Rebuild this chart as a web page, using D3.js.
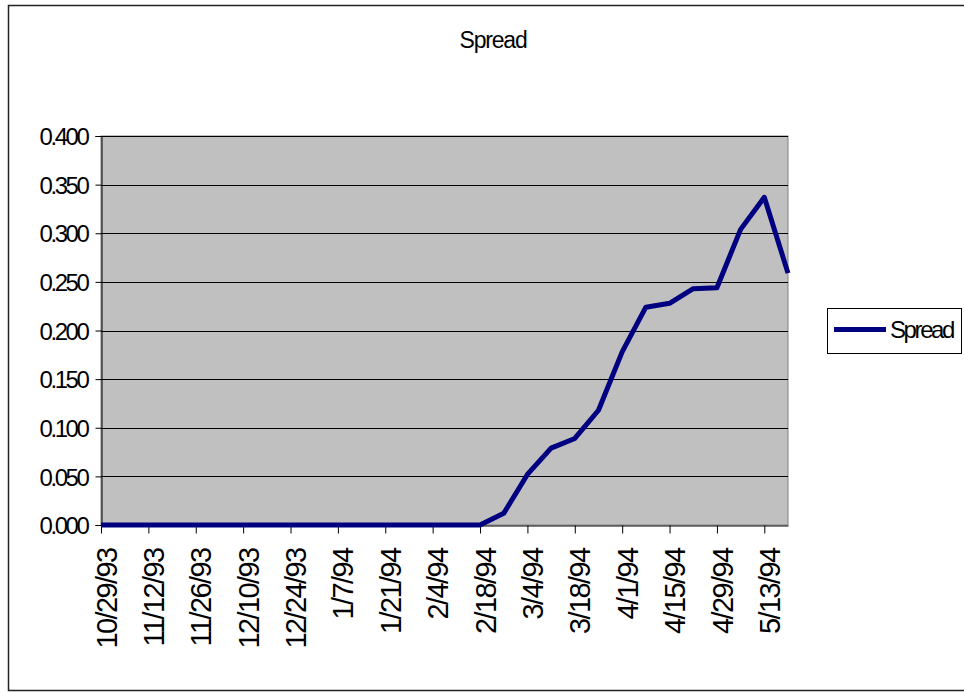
<!DOCTYPE html>
<html>
<head>
<meta charset="utf-8">
<script src="https://cdn.jsdelivr.net/npm/d3@7"></script>
<style>
  html, body { margin: 0; padding: 0; background: #fff; }
  svg { display: block; font-family: "Liberation Sans", Arial, sans-serif; }
</style>
</head>
<body>
<svg id="chart" width="964" height="692"></svg>
<script>
// Weekly observation dates
const dates = [
  "10/29/93", "11/5/93", "11/12/93", "11/19/93", "11/26/93", "12/3/93",
  "12/10/93", "12/17/93", "12/24/93", "12/31/93", "1/7/94", "1/14/94",
  "1/21/94", "1/28/94", "2/4/94", "2/11/94", "2/18/94", "2/25/94",
  "3/4/94", "3/11/94", "3/18/94", "3/25/94", "4/1/94", "4/8/94",
  "4/15/94", "4/22/94", "4/29/94", "5/6/94", "5/13/94", "5/20/94"
];

// Spread series, one value per week
const spread = [
  0, 0, 0, 0, 0, 0, 0, 0, 0, 0, 0, 0, 0, 0, 0, 0, 0,
  0.012, 0.052, 0.079, 0.089, 0.118, 0.178, 0.224, 0.228,
  0.243, 0.244, 0.304, 0.337, 0.259
];

// Axis tick values
const yTicks = [0, 0.05, 0.1, 0.15, 0.2, 0.25, 0.3, 0.35, 0.4];
const xTickLabels = dates.filter((d, i) => i % 2 === 0);

const seriesName = "Spread";
const titleText = "Spread";

const svg = d3.select("#chart");

// Outer chart-area frame
svg.append("path")
  .attr("d", "M970,5.5 H8.5 V690.5 H970")
  .attr("fill", "none")
  .attr("stroke", "#222")
  .attr("stroke-width", 1.5);

const plot = { left: 101, right: 788, top: 136, bottom: 525 };

const x = d3.scalePoint().domain(dates).range([plot.left, plot.right]);
const y = d3.scaleLinear().domain([0, 0.4]).range([plot.bottom, plot.top]);

// Plot background
svg.append("rect")
  .attr("x", plot.left).attr("y", plot.top)
  .attr("width", plot.right - plot.left).attr("height", plot.bottom - plot.top)
  .attr("fill", "#c0c0c0")
  .attr("stroke", "#808080")
  .attr("stroke-width", 1);

// Horizontal gridlines
svg.append("g")
  .selectAll("line")
  .data(yTicks.filter(v => v > 0))
  .join("line")
  .attr("x1", plot.left).attr("x2", plot.right)
  .attr("y1", d => Math.round(y(d)) + 0.5).attr("y2", d => Math.round(y(d)) + 0.5)
  .attr("stroke", "#000").attr("stroke-width", 1);

// Y axis
const yAxis = svg.append("g")
  .attr("transform", `translate(${plot.left + 0.5},0)`)
  .call(d3.axisLeft(y).tickValues(yTicks).tickFormat(d3.format(".3f")).tickSize(6).tickPadding(8));
yAxis.select(".domain").attr("stroke", "#000");
yAxis.selectAll(".tick line").attr("stroke", "#000");
yAxis.selectAll(".tick text")
  .attr("font-size", 24)
  .attr("letter-spacing", -2.4)
  .attr("fill", "#000")
  .attr("dy", "0.36em")
  .attr("font-family", "'Liberation Sans', Arial, sans-serif");

// X axis
const xAxis = svg.append("g")
  .attr("transform", `translate(0,${plot.bottom + 0.5})`)
  .call(d3.axisBottom(x).tickValues(xTickLabels).tickSize(8).tickSizeOuter(0));
xAxis.select(".domain").attr("stroke", "#000");
xAxis.selectAll(".tick line").attr("stroke", "#000");
xAxis.selectAll(".tick text")
  .attr("font-size", 29)
  .attr("letter-spacing", -1.6)
  .attr("fill", "#000")
  .attr("font-family", "'Liberation Sans', Arial, sans-serif")
  .attr("text-anchor", "end")
  .attr("transform", "rotate(-90)")
  .attr("x", -23)
  .attr("y", 0)
  .attr("dy", "0.52em");

// Series line
const line = d3.line()
  .x((d, i) => x(dates[i]))
  .y(d => y(d));

svg.append("path")
  .datum(spread)
  .attr("d", line)
  .attr("fill", "none")
  .attr("stroke", "#000080")
  .attr("stroke-width", 5)
  .attr("stroke-linejoin", "round");

// Title
svg.append("text")
  .attr("x", 493).attr("y", 48)
  .attr("text-anchor", "middle")
  .attr("font-size", 23)
  .attr("letter-spacing", -1.2)
  .attr("fill", "#000")
  .text(titleText);

// Legend
const legend = svg.append("g");
legend.append("rect")
  .attr("x", 827.5).attr("y", 308.5)
  .attr("width", 134).attr("height", 45)
  .attr("fill", "#fff")
  .attr("stroke", "#000").attr("stroke-width", 1);
legend.append("line")
  .attr("x1", 834).attr("x2", 886)
  .attr("y1", 329.5).attr("y2", 329.5)
  .attr("stroke", "#000080").attr("stroke-width", 5);
legend.append("text")
  .attr("x", 890).attr("y", 338)
  .attr("font-size", 24)
  .attr("letter-spacing", -2.4)
  .attr("fill", "#000")
  .text(seriesName);
</script>
</body>
</html>
